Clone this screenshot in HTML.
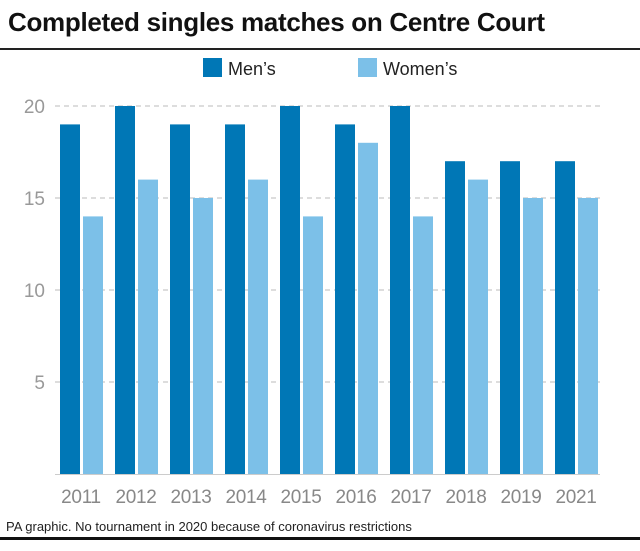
<!DOCTYPE html>
<html><head><meta charset="utf-8"><style>
body{margin:0;background:#fff;width:640px;height:546px;overflow:hidden;font-family:"Liberation Sans",sans-serif}
</style></head><body>
<svg width="640" height="546">
<text x="8" y="31" font-size="26" font-weight="bold" fill="#111" letter-spacing="-0.3">Completed singles matches on Centre Court</text>
<rect x="0" y="48" width="640" height="2" fill="#222"/>
<g>
<rect x="203" y="58" width="19" height="19" fill="#0077b6"/>
<text x="228" y="75" font-size="18" fill="#222">Men’s</text>
<rect x="358" y="58" width="19" height="19" fill="#7cc0e8"/>
<text x="383" y="75" font-size="18" fill="#222">Women’s</text>
</g>
<g id="plot"></g>
<text x="6" y="531" font-size="13" fill="#222">PA graphic. No tournament in 2020 because of coronavirus restrictions</text>
<rect x="0" y="537" width="640" height="3" fill="#111"/>
</svg>
<script>
const years=["2011","2012","2013","2014","2015","2016","2017","2018","2019","2021"];
const mens=[19,20,19,19,20,19,20,17,17,17];
const womens=[14,16,15,16,14,18,14,16,15,15];
const ticks=[5,10,15,20];
const NS="http://www.w3.org/2000/svg";
const g=document.getElementById('plot');
const y=v=>474-v*18.4;
const x0=i=>60+i*55;
function mk(t,a){const e=document.createElementNS(NS,t);for(const k in a)e.setAttribute(k,a[k]);g.appendChild(e);return e;}
ticks.forEach(t=>{
 const l=mk('line',{x1:55,x2:600,y1:y(t),y2:y(t),stroke:'#bbb','stroke-dasharray':'5,4','stroke-width':1});
 
 
 const tx=mk('text',{x:45,y:y(t)+7,'font-size':19,fill:'#999','text-anchor':'end'});
 tx.textContent=t;
 
 
});
years.forEach((yr,i)=>{
 const a=mk('rect',{x:x0(i),y:y(mens[i]),width:20,height:474-y(mens[i]),fill:'#0077b6'});
 
 
 const b=mk('rect',{x:x0(i)+23,y:y(womens[i]),width:20,height:474-y(womens[i]),fill:'#7cc0e8'});
 
 
 const t=mk('text',{x:x0(i)+21,y:503,'font-size':19,fill:'#888','text-anchor':'middle','letter-spacing':'-0.3'});
 t.textContent=yr;
 
 
});
const ax=mk('line',{x1:55,x2:600,y1:474.5,y2:474.5,stroke:'#ccc','stroke-width':1});


</script>
</body></html>
